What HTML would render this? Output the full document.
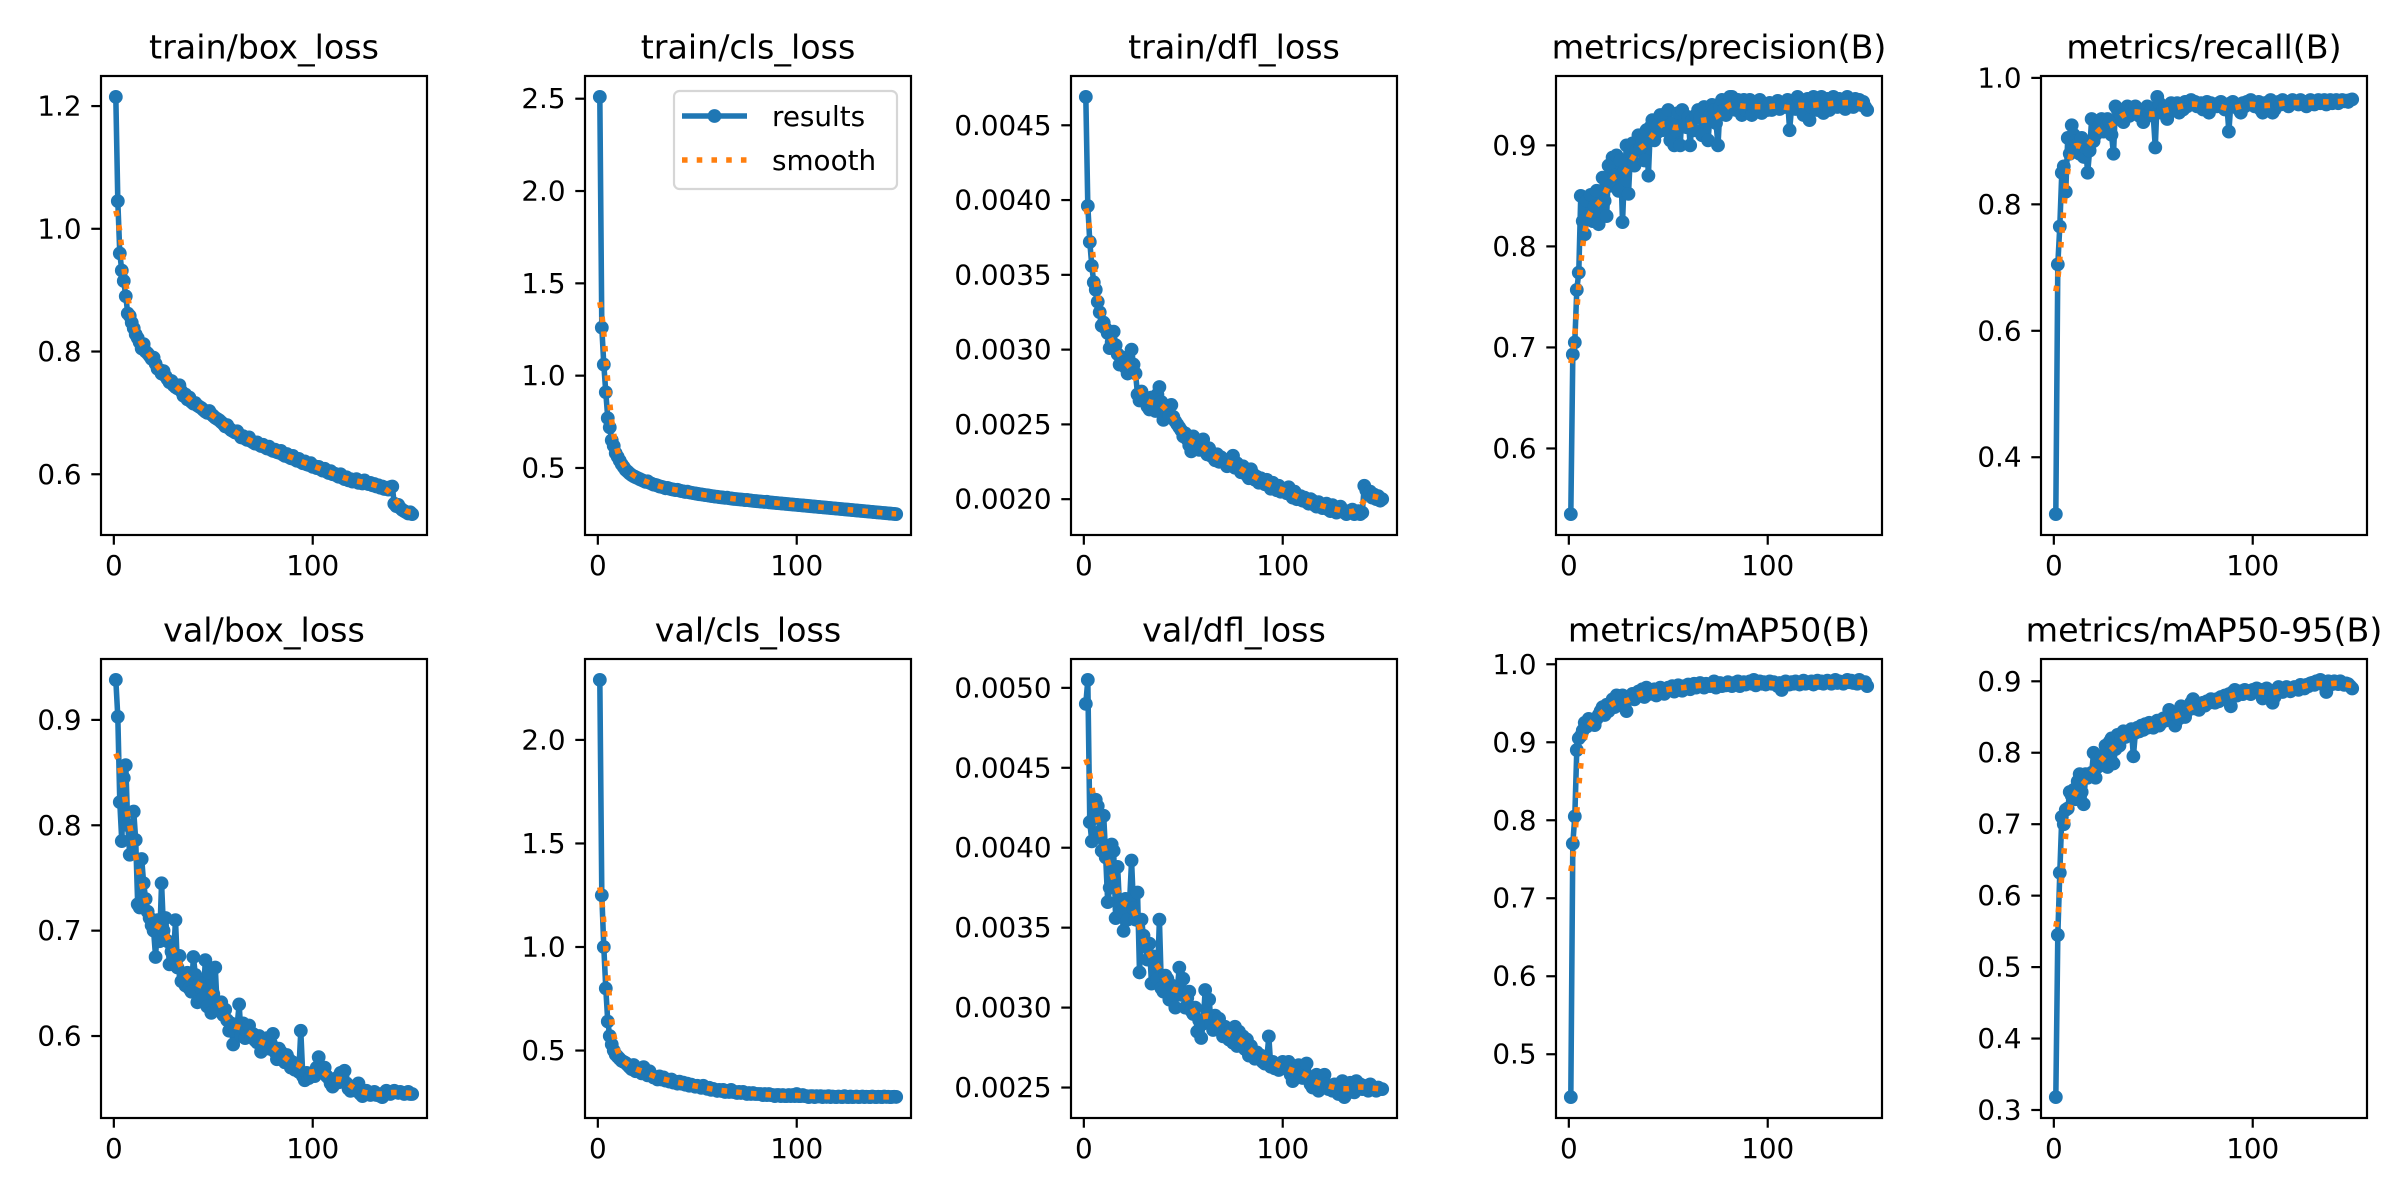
<!DOCTYPE html>
<html><head><meta charset="utf-8"><title>results</title>
<style>
html,body{margin:0;padding:0;background:#fff;}
svg{display:block;font-family:"DejaVu Sans","Liberation Sans",sans-serif;}
</style></head>
<body>
<svg id="fig" width="2400" height="1200" viewBox="0 0 2400 1200" xmlns="http://www.w3.org/2000/svg">
<rect width="2400" height="1200" fill="#fff"/>
</svg>
<script>
const titles = ["train/box_loss","train/cls_loss","train/dfl_loss","metrics/precision(B)","metrics/recall(B)","val/box_loss","val/cls_loss","val/dfl_loss","metrics/mAP50(B)","metrics/mAP50-95(B)"];
const tickSteps = [0.2,0.5,0.0005,0.1,0.2,0.1,0.5,0.0005,0.1,0.1];
const tickDecimals = [1,1,4,1,1,1,1,4,1,1];
const xTicks = [0,100];

const trainBox = [1.215,1.045,0.960,0.932,0.915,0.890,0.862,0.858,0.847,0.838,
0.828,0.822,0.815,0.805,0.812,0.800,0.797,0.793,0.788,0.790,
0.780,0.772,0.770,0.764,0.768,0.760,0.755,0.750,0.752,0.745,
0.742,0.740,0.745,0.735,0.728,0.730,0.722,0.725,0.718,0.715,
0.716,0.712,0.710,0.708,0.705,0.702,0.700,0.703,0.698,0.695,
0.692,0.690,0.688,0.685,0.682,0.678,0.680,0.675,0.672,0.670,
0.668,0.670,0.665,0.660,0.662,0.658,0.656,0.660,0.654,0.652,
0.650,0.652,0.648,0.646,0.648,0.644,0.642,0.645,0.640,0.638,
0.640,0.636,0.635,0.638,0.632,0.630,0.633,0.628,0.626,0.630,
0.624,0.622,0.625,0.620,0.618,0.621,0.616,0.615,0.618,0.612,
0.613,0.610,0.612,0.608,0.606,0.609,0.604,0.602,0.605,0.600,
0.601,0.598,0.596,0.600,0.594,0.592,0.595,0.590,0.592,0.588,
0.590,0.592,0.586,0.588,0.585,0.590,0.586,0.584,0.586,0.582,
0.584,0.580,0.582,0.578,0.580,0.576,0.578,0.575,0.579,0.580,
0.552,0.548,0.550,0.545,0.542,0.540,0.538,0.536,0.538,0.535];

const trainCls = [2.51,1.26,1.06,0.91,0.77,0.72,0.65,0.62,0.58,0.56,
0.54,0.52,0.505,0.49,0.48,0.47,0.462,0.455,0.45,0.445,
0.44,0.435,0.43,0.425,0.428,0.42,0.415,0.41,0.408,0.405,
0.40,0.398,0.395,0.39,0.392,0.388,0.385,0.383,0.38,0.382,
0.378,0.375,0.373,0.37,0.372,0.368,0.366,0.364,0.362,0.36,
0.358,0.357,0.355,0.353,0.352,0.35,0.348,0.347,0.345,0.344,
0.342,0.341,0.34,0.338,0.339,0.336,0.335,0.333,0.332,0.331,
0.33,0.329,0.328,0.326,0.327,0.325,0.324,0.322,0.321,0.32,
0.319,0.318,0.317,0.316,0.317,0.314,0.313,0.312,0.311,0.31,
0.309,0.308,0.307,0.306,0.305,0.304,0.303,0.302,0.301,0.3,
0.299,0.298,0.297,0.296,0.295,0.294,0.293,0.292,0.291,0.29,
0.289,0.288,0.287,0.286,0.285,0.284,0.283,0.282,0.281,0.28,
0.279,0.278,0.277,0.276,0.275,0.274,0.273,0.272,0.271,0.27,
0.269,0.268,0.267,0.266,0.265,0.264,0.263,0.262,0.261,0.26,
0.259,0.258,0.257,0.256,0.255,0.254,0.253,0.252,0.251,0.25];

const trainDfl = [.00469,.00396,.00372,.00356,.00345,.00340,.00332,.00325,.00316,.00318,
.00314,.00311,.00301,.00305,.00312,.00303,.00297,.00290,.00295,.00291,
.00288,.00284,.00292,.00300,.00290,.00284,.00270,.00266,.00272,.00268,
.00265,.00262,.00260,.00268,.00262,.00259,.00270,.00275,.00265,.00253,
.00262,.00258,.00256,.00263,.00255,.00252,.00250,.00248,.00246,.00242,
.00244,.00240,.00236,.00232,.00242,.00240,.00238,.00233,.00236,.00240,
.00232,.00230,.00234,.00229,.00228,.00226,.00230,.00225,.00228,.00226,
.00224,.00222,.00226,.00223,.00229,.00221,.00224,.00220,.00218,.00222,
.00219,.00216,.00214,.00220,.00217,.00213,.00215,.00211,.00214,.00212,
.00210,.00213,.00209,.00207,.00211,.00208,.00206,.00209,.00205,.00207,
.00206,.00204,.00208,.00203,.00201,.00205,.00200,.00200,.00202,.00199,
.00201,.00198,.00197,.00200,.00199,.00196,.00195,.00198,.00196,.00194,
.00195,.00197,.00193,.00192,.00196,.00194,.00191,.00193,.00195,.00192,
.00191,.00190,.00192,.00191,.00193,.00190,.00191,.00192,.00190,.00191,
.00209,.00206,.00203,.00205,.00201,.00203,.00200,.00202,.00199,.00200];

const precision = [.535,.693,.705,.757,.774,.850,.825,.812,.845,.830,
.851,.825,.840,.855,.822,.835,.868,.845,.830,.880,
.860,.888,.870,.890,.855,.885,.824,.875,.900,.852,
.893,.902,.880,.895,.910,.897,.905,.885,.915,.870,
.918,.925,.905,.912,.920,.930,.915,.925,.932,.935,
.905,.922,.900,.915,.932,.900,.935,.920,.918,.928,
.900,.925,.915,.930,.935,.928,.910,.938,.925,.905,
.930,.940,.935,.922,.900,.938,.945,.935,.930,.942,
.948,.948,.940,.935,.945,.938,.930,.945,.935,.940,
.945,.930,.938,.942,.935,.945,.932,.940,.938,.935,
.942,.935,.940,.938,.944,.936,.940,.942,.938,.945,
.915,.938,.942,.936,.948,.945,.940,.930,.944,.946,
.925,.938,.948,.940,.935,.944,.948,.932,.940,.946,
.935,.942,.948,.940,.938,.946,.942,.944,.936,.948,
.940,.944,.938,.946,.942,.945,.940,.943,.938,.935];

const recall = [.310,.705,.765,.850,.860,.820,.905,.880,.925,.910,
.900,.895,.880,.905,.875,.890,.850,.885,.935,.900,
.910,.920,.925,.935,.915,.920,.935,.930,.910,.880,
.955,.950,.945,.940,.930,.945,.955,.940,.950,.945,
.955,.950,.940,.945,.930,.950,.955,.945,.950,.940,
.890,.970,.960,.945,.950,.955,.935,.945,.960,.950,
.955,.960,.945,.958,.950,.962,.955,.960,.965,.958,
.962,.955,.958,.960,.950,.955,.962,.945,.960,.955,
.958,.955,.960,.962,.955,.950,.958,.915,.960,.962,
.955,.958,.950,.945,.960,.955,.962,.958,.965,.960,
.955,.958,.962,.950,.945,.960,.958,.962,.965,.945,
.950,.960,.962,.958,.965,.960,.962,.955,.960,.965,
.960,.962,.958,.965,.960,.962,.955,.960,.965,.962,
.958,.962,.965,.960,.962,.965,.958,.962,.965,.960,
.962,.965,.960,.962,.965,.963,.964,.962,.965,.966];

const valBox = [.938,.903,.822,.785,.845,.857,.800,.772,.785,.813,
.786,.725,.722,.768,.745,.730,.718,.712,.705,.700,
.675,.710,.690,.745,.700,.712,.690,.668,.680,.675,
.710,.665,.676,.652,.658,.648,.660,.645,.642,.675,
.658,.632,.650,.645,.636,.672,.628,.660,.622,.640,
.665,.626,.630,.632,.620,.625,.615,.605,.612,.592,
.605,.610,.630,.600,.612,.598,.604,.610,.600,.602,
.596,.594,.600,.585,.596,.590,.598,.588,.593,.602,
.585,.578,.588,.585,.580,.575,.582,.578,.570,.575,
.568,.572,.566,.605,.562,.558,.565,.560,.562,.565,
.562,.570,.580,.568,.565,.570,.562,.560,.555,.552,
.558,.560,.556,.565,.562,.567,.555,.550,.548,.552,
.550,.548,.555,.545,.543,.546,.548,.545,.544,.546,
.547,.544,.545,.543,.542,.546,.548,.547,.545,.546,
.548,.547,.546,.547,.546,.545,.546,.547,.545,.545];

const valCls = [2.29,1.25,1.00,0.80,0.64,0.57,0.53,0.50,0.48,0.47,
0.46,0.45,0.445,0.44,0.43,0.42,0.41,0.43,0.40,0.41,
0.40,0.39,0.42,0.39,0.38,0.40,0.38,0.37,0.37,0.36,
0.375,0.36,0.37,0.355,0.36,0.35,0.36,0.345,0.35,0.34,
0.35,0.34,0.345,0.335,0.34,0.33,0.335,0.33,0.325,0.33,
0.325,0.32,0.33,0.32,0.315,0.32,0.31,0.315,0.31,0.305,
0.31,0.305,0.31,0.30,0.305,0.30,0.31,0.30,0.30,0.295,
0.30,0.295,0.30,0.295,0.29,0.295,0.29,0.295,0.29,0.29,
0.29,0.29,0.285,0.29,0.285,0.29,0.285,0.285,0.28,0.285,
0.285,0.28,0.285,0.28,0.28,0.285,0.28,0.285,0.28,0.29,
0.28,0.28,0.285,0.28,0.28,0.275,0.28,0.28,0.275,0.28,
0.278,0.28,0.275,0.278,0.276,0.28,0.275,0.278,0.276,0.275,
0.278,0.276,0.275,0.28,0.276,0.275,0.278,0.275,0.276,0.278,
0.275,0.276,0.278,0.275,0.277,0.276,0.275,0.278,0.276,0.275,
0.277,0.276,0.275,0.278,0.276,0.277,0.275,0.276,0.277,0.276];

const valDfl = [.00490,.00505,.00416,.00404,.00420,.00430,.00426,.00410,.00398,.00420,
.00394,.00366,.00375,.00402,.00398,.00356,.00388,.00362,.00360,.00348,
.00368,.00355,.00366,.00392,.00362,.00355,.00372,.00322,.00355,.00345,
.00338,.00330,.00340,.00315,.00332,.00328,.00318,.00355,.00312,.00310,
.00320,.00318,.00305,.00314,.00308,.00300,.00312,.00325,.00308,.00318,
.00300,.00306,.00310,.00298,.00296,.00300,.00285,.00292,.00281,.00290,
.00311,.00296,.00305,.00290,.00286,.00295,.00290,.00293,.00286,.00282,
.00288,.00284,.00280,.00286,.00278,.00288,.00276,.00285,.00279,.00282,
.00274,.00280,.00270,.00276,.00271,.00268,.00272,.00268,.00270,.00266,
.00265,.00268,.00282,.00263,.00266,.00262,.00264,.00261,.00263,.00266,
.00262,.00264,.00266,.00258,.00254,.00262,.00260,.00264,.00258,.00256,
.00260,.00265,.00256,.00252,.00250,.00254,.00258,.00248,.00252,.00250,
.00258,.00252,.00249,.00250,.00248,.00252,.00250,.00246,.00252,.00254,
.00244,.00246,.00250,.00253,.00248,.00247,.00254,.00250,.00252,.00249,
.00251,.00250,.00248,.00252,.00250,.00249,.00248,.00250,.00249,.00249];

const map50 = [.445,.770,.805,.890,.905,.908,.915,.925,.920,.930,
.925,.928,.922,.930,.935,.940,.945,.935,.948,.940,
.950,.955,.945,.960,.958,.950,.960,.945,.940,.955,
.958,.962,.955,.960,.965,.960,.968,.958,.970,.965,
.962,.965,.968,.960,.966,.970,.965,.962,.968,.970,
.968,.972,.965,.970,.973,.968,.966,.972,.970,.974,
.968,.972,.975,.970,.973,.976,.972,.970,.975,.973,
.972,.975,.978,.970,.974,.976,.972,.975,.973,.977,
.975,.972,.976,.974,.978,.972,.975,.977,.974,.976,
.978,.975,.980,.973,.976,.978,.975,.977,.974,.976,
.978,.975,.977,.974,.972,.976,.967,.975,.978,.976,
.974,.977,.975,.978,.976,.974,.977,.979,.975,.977,
.976,.978,.974,.977,.979,.976,.978,.975,.977,.979,
.978,.975,.977,.980,.976,.978,.977,.975,.978,.980,
.977,.979,.976,.978,.975,.980,.978,.976,.977,.972];

const map5095 = [.318,.545,.632,.710,.700,.720,.722,.745,.740,.748,
.735,.760,.770,.745,.728,.770,.765,.770,.772,.800,
.765,.780,.785,.795,.790,.810,.780,.815,.820,.785,
.805,.825,.810,.820,.830,.822,.825,.830,.833,.795,
.828,.835,.830,.838,.832,.840,.835,.842,.838,.835,
.840,.845,.838,.842,.848,.845,.850,.860,.845,.855,
.838,.852,.848,.865,.855,.850,.858,.862,.870,.875,
.862,.865,.860,.868,.870,.866,.872,.870,.875,.872,
.870,.875,.872,.878,.876,.880,.878,.882,.865,.885,
.888,.880,.884,.886,.882,.888,.885,.886,.882,.888,
.886,.890,.885,.888,.876,.884,.890,.888,.886,.870,
.878,.888,.892,.890,.885,.888,.892,.890,.886,.890,
.892,.890,.888,.895,.893,.890,.895,.893,.897,.898,
.895,.900,.898,.902,.896,.895,.885,.900,.898,.896,
.900,.898,.896,.900,.898,.895,.897,.896,.893,.890];

const series = [trainBox,trainCls,trainDfl,precision,recall,valBox,valCls,valDfl,map50,map5095];

// layout
const colLeft = [101,585,1071,1556,2041];
const axW = 326;
const rowTop = [76,659];
const axH = 459;
const BLUE = "#1f77b4", ORANGE = "#ff7f0e";
const svg = document.getElementById('fig');
const NS = "http://www.w3.org/2000/svg";
function mk(tag, attrs, parent){const e=document.createElementNS(NS,tag);for(const k in attrs)e.setAttribute(k,attrs[k]);(parent||svg).appendChild(e);return e;}

function gauss(y, sigma){
  const r = Math.floor(4*sigma+0.5), w=[]; let s=0;
  for(let k=-r;k<=r;k++){const v=Math.exp(-0.5*k*k/(sigma*sigma));w.push(v);s+=v;}
  const n=y.length, out=[];
  for(let i=0;i<n;i++){let a=0;for(let k=-r;k<=r;k++){let j=i+k;
    while(j<0||j>=n){ if(j<0) j=-j-1; if(j>=n) j=2*n-j-1; }
    a+=w[k+r]*y[j];} out.push(a/s);}
  return out;
}

series.forEach((ys, idx) => {
  const row = Math.floor(idx/5), col = idx%5;
  const L = colLeft[col], T = rowTop[row], R = L+axW, B = T+axH;
  const g = mk('g', {});
  
  
  const n = ys.length;
  const xmin0 = 1, xmax0 = n, xm = (xmax0-xmin0)*0.05;
  const xlo = xmin0-xm, xhi = xmax0+xm;
  const ymin0 = Math.min(...ys), ymax0 = Math.max(...ys), ymg = (ymax0-ymin0)*0.05;
  const ylo = ymin0-ymg, yhi = ymax0+ymg;
  const X = v => L + (v-xlo)/(xhi-xlo)*axW;
  const Y = v => B - (v-ylo)/(yhi-ylo)*axH;

  // title
  const t = mk('text', {x:(L+R)/2, y:T-17.5, 'text-anchor':'middle', 'font-size':'33.3px', fill:'#000'}, g);
  t.textContent = titles[idx];
  
  

  // series line
  const pts = ys.map((v,i)=>X(i+1).toFixed(2)+','+Y(v).toFixed(2)).join(' ');
  const pl = mk('polyline', {points:pts, fill:'none', stroke:BLUE, 'stroke-width':5.56, 'stroke-linejoin':'round', 'stroke-linecap':'butt'}, g);
  
  
  ys.forEach((v,i)=>{
    const c = mk('circle', {cx:X(i+1).toFixed(2), cy:Y(v).toFixed(2), r:6.9, fill:BLUE}, g);
    
    
  });
  // smooth
  const sm = gauss(ys, 3);
  const sp = sm.map((v,i)=>X(i+1).toFixed(2)+','+Y(v).toFixed(2)).join(' ');
  const sl = mk('polyline', {points:sp, fill:'none', stroke:ORANGE, 'stroke-width':5.56, 'stroke-dasharray':'5.56 9.17', 'stroke-linecap':'butt'}, g);
  
  

  // frame
  const fr = mk('rect', {x:L, y:T, width:axW, height:axH, fill:'none', stroke:'#000', 'stroke-width':2.2}, g);
  
  

  // y ticks
  const st = tickSteps[idx];
  let k0 = Math.ceil(ylo/st - 1e-9);
  for(let k=k0; k*st<=yhi+1e-12; k++){
    const v = k*st, yy = Y(v);
    mk('line', {x1:L, x2:L-9.7, y1:yy, y2:yy, stroke:'#000', 'stroke-width':2.2}, g);
    const tl = mk('text', {x:L-19.4, y:yy, 'text-anchor':'end', 'dominant-baseline':'central', 'font-size':'27.8px', fill:'#000'}, g);
    tl.textContent = v.toFixed(tickDecimals[idx]);
    
    
  }
  // x ticks
  xTicks.forEach(v=>{
    const xx = X(v);
    mk('line', {x1:xx, x2:xx, y1:B, y2:B+9.7, stroke:'#000', 'stroke-width':2.2}, g);
    const tl = mk('text', {x:xx, y:B+40, 'text-anchor':'middle', 'font-size':'27.8px', fill:'#000'}, g);
    tl.textContent = String(v);
    
    
  });

  if(idx===1){
    const lg = mk('g', {}, g);
    
    
    mk('rect', {x:674, y:91, width:223, height:98, rx:5.5, fill:'#fff', 'fill-opacity':0.8, stroke:'#d6d6d6', 'stroke-width':2.2}, lg);
    const e1 = mk('g', {}, lg);
    
    
    mk('line', {x1:682, x2:747, y1:116, y2:116, stroke:BLUE, 'stroke-width':5.56}, e1);
    mk('circle', {cx:714.5, cy:116, r:6.9, fill:BLUE}, e1);
    const t1 = mk('text', {x:772, y:126, 'font-size':'27.8px', fill:'#000'}, e1); t1.textContent='results';
    const e2 = mk('g', {}, lg);
    
    
    mk('line', {x1:682, x2:747, y1:160, y2:160, stroke:ORANGE, 'stroke-width':5.56, 'stroke-dasharray':'5.56 9.17'}, e2);
    const t2 = mk('text', {x:772, y:170, 'font-size':'27.8px', fill:'#000'}, e2); t2.textContent='smooth';
  }
});
</script>
</body></html>
